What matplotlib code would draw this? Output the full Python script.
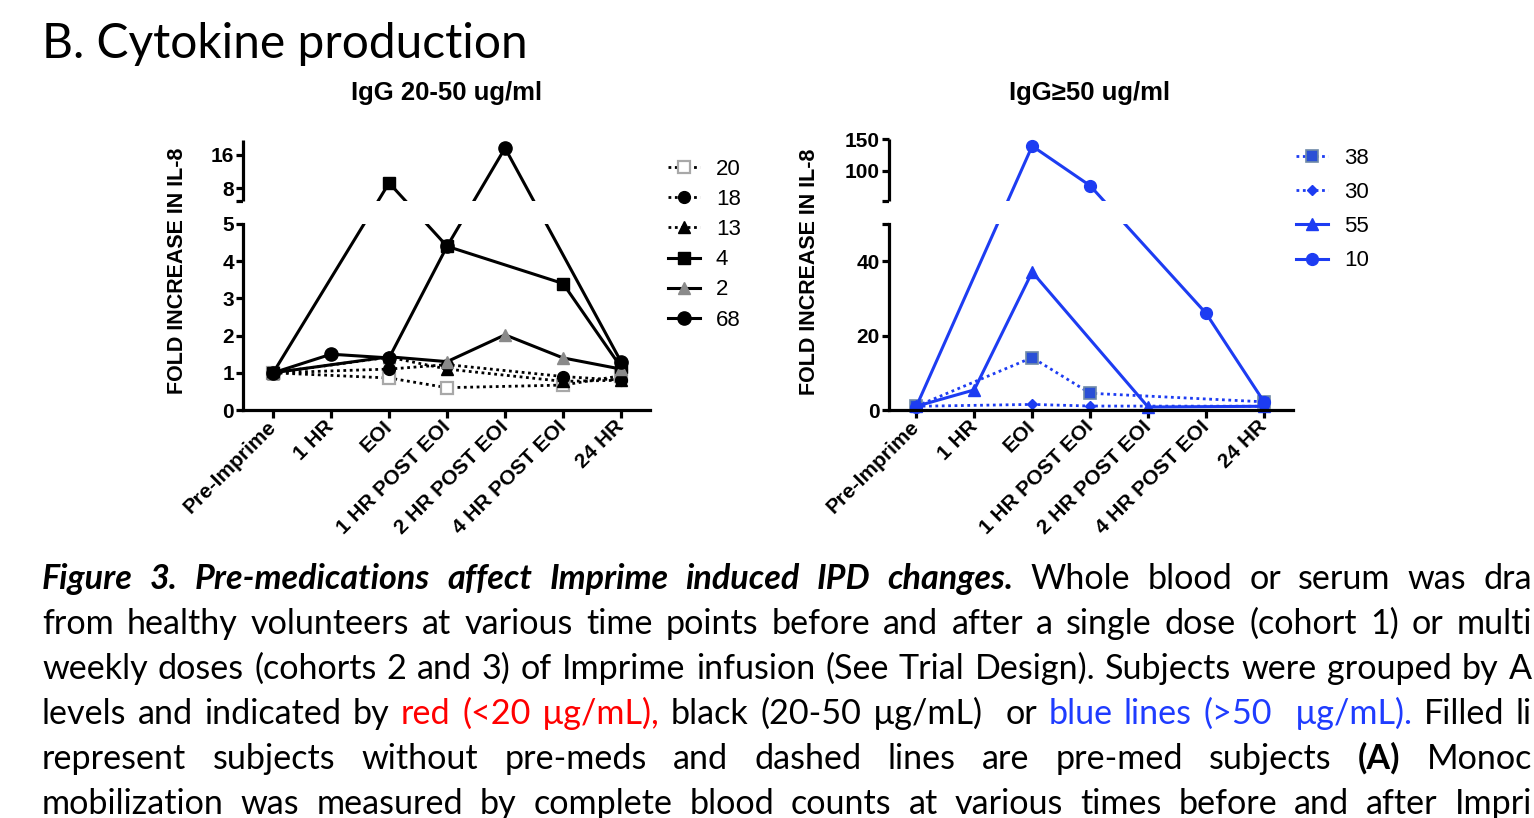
import re
import numpy as np
import matplotlib
matplotlib.use('Agg')
import matplotlib.pyplot as plt

plt.rcParams['font.family'] = ['Liberation Sans', 'DejaVu Sans']

nan = np.nan
timepoints = ['Pre-Imprime', '1 HR', 'EOI', '1 HR POST EOI',
              '2 HR POST EOI', '4 HR POST EOI', '24 HR']

# IgG 20-50 ug/ml subjects, fold increase in IL-8 (nan = not measured)
mid_labels = ['20', '18', '13', '4', '2', '68']
mid_20 = [1.0, nan, 0.86, 0.6, nan, 0.67, 0.92]
mid_18 = [1.0, nan, 1.1, 1.22, nan, 0.9, 0.8]
mid_13 = [1.0, nan, 1.42, 1.1, nan, 0.77, 0.8]
mid_4 = [1.0, nan, 9.3, 4.4, nan, 3.4, 1.15]
mid_2 = [1.0, nan, 1.43, 1.3, 2.02, 1.4, 1.1]
mid_68 = [1.0, 1.5, 1.4, 4.4, 17.6, nan, 1.3]

# IgG >= 50 ug/ml subjects
high_labels = ['38', '30', '55', '10']
high_38 = [1.0, nan, 14.1, 4.5, nan, nan, 2.2]
high_30 = [1.0, nan, 1.5, 1.07, nan, nan, 1.0]
high_55 = [1.0, 5.4, 37.1, nan, 0.8, nan, 1.0]
high_10 = [0.9, nan, 139.0, 77.0, nan, 26.0, 2.2]

W, H = 1534, 818
fig = plt.figure(figsize=(W / 100, H / 100), dpi=100)

BLUE = '#1d3cf2'
dot = (0, (1, 1.3))


def px_axes(x0, y0, x1, y1):
    return fig.add_axes([x0 / W, 1 - y1 / H, (x1 - x0) / W, (y1 - y0) / H])


def broken(b, u0, a, gap, s):
    # piecewise y scale: lower part 0..b, a blank gap, then upper part from u0
    def fwd(y):
        y = np.asarray(y, dtype=float)
        return np.where(y <= b, y * a, b * a + gap + (y - u0) * s)

    def inv(v):
        v = np.asarray(v, dtype=float)
        return np.where(v <= b * a, v / a,
                        np.where(v < b * a + gap, b, u0 + (v - b * a - gap) / s))
    return fwd, inv


def panel(ax, series, styles, brk, top, yticks, ylabels, xleft):
    b, u0, a, gap, s = brk
    fwd, inv = broken(*brk)
    ax.set_yscale('function', functions=(fwd, inv))
    ax.set_ylim(0, top)
    ax.set_xlim(xleft, 6.5)
    x = np.arange(len(timepoints))
    handles = []
    for vals, st in zip(series, styles):
        v = np.asarray(vals, dtype=float)
        ok = ~np.isnan(v)
        h, = ax.plot(x[ok], v[ok], clip_on=False, zorder=2, **st)
        handles.append(h)
    # blank out the axis break
    ax.axhspan(b, max(u0, b + 1e-9), color='white', lw=0, zorder=2.2)
    for sp in ['top', 'right']:
        ax.spines[sp].set_visible(False)
    ax.spines['left'].set_bounds(0, b)
    ax.spines['left'].set_linewidth(2.3)
    ax.spines['bottom'].set_linewidth(2.3)
    frac = (b * a + gap) / float(fwd(top))
    ax.axvline(xleft, frac, 1, color='black', lw=2.3, clip_on=False,
               solid_capstyle='butt', zorder=2.5)
    ax.set_yticks(yticks)
    ax.set_yticklabels(ylabels, fontsize=15, fontweight='bold')
    ax.set_xticks(x)
    ax.set_xticklabels(timepoints, fontsize=15, fontweight='bold',
                       rotation=45, ha='right', va='center',
                       rotation_mode='anchor')
    ax.tick_params(axis='y', length=5, width=2.3, pad=1.5)
    ax.tick_params(axis='x', length=6, width=2.3, pad=4)
    ax.set_ylabel('FOLD INCREASE IN IL-8', fontsize=15.5, fontweight='bold')
    return handles


def legend(ax, handles, labels, x, y, spacing):
    ax.legend(handles, labels, loc='upper left', bbox_to_anchor=(x / W, 1 - y / H),
              bbox_transform=fig.transFigure, frameon=False, fontsize=16,
              handlelength=1.45, handletextpad=0.7, labelspacing=spacing,
              borderpad=0, borderaxespad=0)


# left panel
axl = px_axes(243, 140, 650, 410)
mid_series = [mid_20, mid_18, mid_13, mid_4, mid_2, mid_68]
mid_styles = [
    dict(color='black', ls=dot, lw=2, marker='s', ms=8, mfc='white', mec='#a8a8a8', mew=1.6),
    dict(color='black', ls=dot, lw=2, marker='o', ms=8.5, mfc='black', mec='black'),
    dict(color='black', ls=dot, lw=2, marker='^', ms=8.5, mfc='black', mec='black'),
    dict(color='black', ls='-', lw=2.2, marker='s', ms=8.5, mfc='black', mec='black'),
    dict(color='black', ls='-', lw=2.2, marker='^', ms=9, mfc='#8a8a8a', mec='#8a8a8a'),
    dict(color='black', ls='-', lw=2.2, marker='o', ms=9.5, mfc='black', mec='black'),
]
hl = panel(axl, mid_series, mid_styles, (5, 5, 37.2, 23, 4.2), 19.52,
           [0, 1, 2, 3, 4, 5, 5 + 1e-9, 8, 16],
           ['0', '1', '2', '3', '4', '5', '', '8', '16'], -0.52)
axl.yaxis.set_label_coords(-0.135, 0.515)
legend(axl, hl, mid_labels, 668, 159, 0.41)

# right panel
axr = px_axes(889, 139, 1293, 410)
high_series = [high_38, high_30, high_55, high_10]
high_styles = [
    dict(color=BLUE, ls=dot, lw=2, marker='s', ms=8.5, mfc='#2a4fd6', mec='#6f8aa8', mew=1.2),
    dict(color=BLUE, ls=dot, lw=2, marker='D', ms=5.5, mfc=BLUE, mec=BLUE),
    dict(color=BLUE, ls='-', lw=2.2, marker='^', ms=8, mfc=BLUE, mec=BLUE),
    dict(color=BLUE, ls='-', lw=2.2, marker='o', ms=8.5, mfc=BLUE, mec=BLUE),
]
hr = panel(axr, high_series, high_styles, (50, 53, 3.72, 23, 0.64), 150,
           [0, 20, 40, 50, 53, 100, 150],
           ['0', '20', '40', '', '', '100', '150'], -0.47)
axr.yaxis.set_label_coords(-0.171, 0.51)
legend(axr, hr, high_labels, 1296, 148, 0.59)

fig.text(447 / W, 1 - 93 / H, 'IgG 20-50 ug/ml', ha='center', va='center',
         fontsize=18.5, fontweight='bold')
fig.text(1090 / W, 1 - 93 / H, 'IgG\u226550 ug/ml', ha='center', va='center',
         fontsize=18.5, fontweight='bold')

LATO = ['Lato', 'DejaVu Sans']
fig.text(42 / W, 1 - 58 / H, 'B. Cytokine production', ha='left', va='baseline',
         fontsize=34.5, family=LATO)

# caption, justified like the slide text (it runs off the right edge there)
caption = [
    [('Figure 3. Pre-medications affect Imprime induced IPD changes.', 'bi'),
     (' Whole blood or serum was dra', 'n')],
    [('from healthy volunteers at various time points before and after a single dose (cohort 1) or multi', 'n')],
    [('weekly doses (cohorts 2 and 3) of Imprime infusion (See Trial Design). Subjects were grouped by A', 'n')],
    [('levels and indicated by ', 'n'), ('red (<20 \u00b5g/mL),', 'r'),
     (' black (20-50 \u00b5g/mL)  or ', 'n'), ('blue lines (>50  \u00b5g/mL).', 'u'),
     (' Filled li', 'n')],
    [('represent subjects without pre-meds and dashed lines are pre-med subjects ', 'n'),
     ('(A)', 'b'), (' Monoc', 'n')],
    [('mobilization was measured by complete blood counts at various times before and after Impri', 'n')],
]
cap_styles = {
    'n': dict(color='black'),
    'bi': dict(color='black', fontweight='bold', fontstyle='italic'),
    'b': dict(color='black', fontweight='bold'),
    'r': dict(color='#ff0000'),
    'u': dict(color='#1f3cff'),
}
CAP_SIZE = 24.6
renderer = fig.canvas.get_renderer()


def width(t):
    return t.get_window_extent(renderer).width


p1 = fig.text(0, 0, 'a a', fontsize=CAP_SIZE, family=LATO)
p2 = fig.text(0, 0, 'aa', fontsize=CAP_SIZE, family=LATO)
space_w = width(p1) - width(p2)
p1.remove()
p2.remove()

x_start, x_end = 42, 1532
for i, pieces in enumerate(caption):
    base = 589 + 45 * i
    tokens = []
    gap = 0
    for text, st in pieces:
        for part in re.split(r'( +)', text):
            if not part:
                continue
            if part.startswith(' '):
                gap += len(part)
            else:
                t = fig.text(0, 1 - base / H, part, ha='left', va='baseline',
                             fontsize=CAP_SIZE, family=LATO, **cap_styles[st])
                tokens.append((t, gap if tokens else 0))
                gap = 0
    total = sum(width(t) for t, _ in tokens)
    units = sum(g for _, g in tokens)
    unit = max(0.8 * space_w, (x_end - x_start - total) / units)
    x = x_start
    for t, g in tokens:
        x += g * unit
        t.set_x(x / W)
        x += width(t)

fig.savefig('out.png', dpi=100)
